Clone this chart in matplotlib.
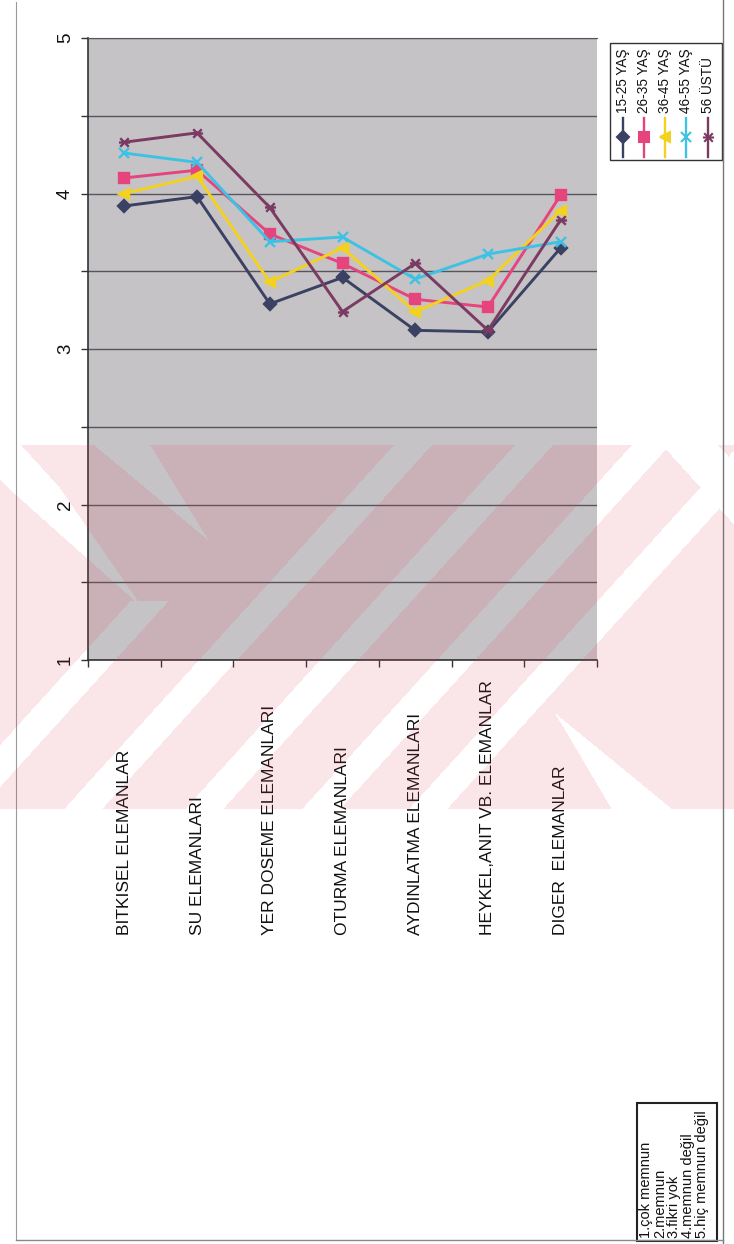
import numpy as np
import matplotlib
matplotlib.use("Agg")
import matplotlib.pyplot as plt
from matplotlib.path import Path
from matplotlib.lines import Line2D
from matplotlib.patches import Rectangle
from matplotlib.ticker import MultipleLocator, FixedLocator

plt.rcParams['font.family'] = ['Liberation Sans', 'DejaVu Sans']

# ---------------- data ----------------
categories = ["BITKISEL ELEMANLAR", "SU ELEMANLARI", "YER DOSEME ELEMANLARI",
              "OTURMA ELEMANLARI", "AYDINLATMA ELEMANLARI",
              "HEYKEL,ANIT VB. ELEMANLAR", "DIGER  ELEMANLAR"]
series_names = ["15-25 YAŞ", "26-35 YAŞ", "36-45 YAŞ", "46-55 YAŞ", "56 ÜSTÜ"]
age_15_25 = [3.92, 3.98, 3.29, 3.46, 3.12, 3.11, 3.65]
age_26_35 = [4.10, 4.15, 3.74, 3.55, 3.32, 3.27, 3.99]
age_36_45 = [4.00, 4.11, 3.43, 3.65, 3.24, 3.44, 3.89]
age_46_55 = [4.26, 4.20, 3.69, 3.72, 3.45, 3.61, 3.69]
age_56_up = [4.33, 4.39, 3.91, 3.24, 3.55, 3.12, 3.83]
value_ticks = [1, 2, 3, 4, 5]
scale_notes = ["1.çok memnun", "2.memnun", "3.fikri yok",
               "4.memnun değil", "5.hiç memnun değil"]

series_values = [age_15_25, age_26_35, age_36_45, age_46_55, age_56_up]
colors = ['#3b4163', '#e6447c', '#f3d11f', '#3ec2e4', '#7b3a62']
star = Path([(-1, -1), (1, 1), (-1, 1), (1, -1), (-1.3, 0), (1.3, 0)],
            [Path.MOVETO, Path.LINETO] * 3)
markers = ['D', 's', '<', 'x', star]
msizes = [6, 6.5, 7, 7.5, 8]

W, H = 734, 1244
def fx(px):
    return px / W
def fy(py):
    return 1 - py / H

fig = plt.figure(figsize=(W / 100, H / 100), dpi=100)
fig.patch.set_facecolor('white')

ax = fig.add_axes([fx(88), fy(660), fx(597) - fx(88), fy(38) - fy(660)])
ax.set_facecolor('#c6c3c6')

x = np.arange(len(categories))
for vals, col, mk, ms in zip(series_values, colors, markers, msizes):
    ax.plot(x, vals, color=col, lw=2.1, marker=mk, ms=ms,
            markerfacecolor=col, markeredgecolor=col, markeredgewidth=1.7,
            zorder=3)

ax.set_xlim(-0.5, len(categories) - 0.5)
ax.set_ylim(value_ticks[0], value_ticks[-1])

# value axis
ax.yaxis.set_major_locator(FixedLocator(value_ticks))
ax.yaxis.set_minor_locator(MultipleLocator(0.5))
ax.set_yticklabels([str(v) for v in value_ticks])
ax.grid(which='both', axis='y', color='#58535c', lw=1.0, zorder=1)
ax.tick_params(axis='y', which='both', direction='out', length=5,
               width=1, color='#333333', pad=5, labelsize=13.5,
               labelcolor='#111111')
for lab in ax.get_yticklabels():
    lab.set_rotation(90)
    lab.set_va('center')

# category axis
ax.set_xticks(x)
ax.set_xticklabels(categories)
ax.xaxis.set_minor_locator(FixedLocator(np.arange(-0.5, len(categories), 1.0)))
ax.tick_params(axis='x', which='major', length=0, pad=198, labelsize=12.5,
               labelcolor='#111111')
ax.tick_params(axis='x', which='minor', length=5, width=1, color='#333333')
for lab in ax.get_xticklabels():
    lab.set_rotation(90)
    lab.set_va('bottom')
    lab.set_ha('center')

for s in ['left', 'bottom']:
    ax.spines[s].set_color('#333333')
    ax.spines[s].set_linewidth(1.2)
ax.spines['top'].set_color('#58535c')
ax.spines['right'].set_visible(False)

# legend (rotated, drawn manually)
fig.add_artist(Rectangle((fx(610), fy(160)), fx(722) - fx(610), fy(43) - fy(160),
                         transform=fig.transFigure, fill=False,
                         edgecolor='#333333', lw=1.0))
leg_x = [623, 644, 665, 686, 708]
for name, col, mk, ms, lx in zip(series_names, colors, markers, msizes, leg_x):
    fig.add_artist(Line2D([fx(lx), fx(lx)], [fy(118), fy(157)],
                          transform=fig.transFigure, color=col, lw=1.7))
    fig.add_artist(Line2D([fx(lx)], [fy(137)], transform=fig.transFigure,
                          color=col, marker=mk, ms=ms, markerfacecolor=col,
                          markeredgecolor=col, markeredgewidth=1.5, lw=0))
    fig.text(fx(lx), fy(113), name, rotation=90, ha='center', va='bottom',
             fontsize=9.8, color='#111111')

# scale note box
fig.add_artist(Rectangle((fx(637), fy(1241)), fx(717) - fx(637), fy(1103) - fy(1241),
                         transform=fig.transFigure, fill=False,
                         edgecolor='#222222', lw=1.5))
fig.text(fx(639), fy(1238), "\n".join(scale_notes), rotation=90, ha='left',
         va='bottom', fontsize=10.5, linespacing=1.0, color='#111111')

# page frame of the scan
fig.add_artist(Line2D([fx(16), fx(16)], [fy(2), fy(1240)], transform=fig.transFigure,
                      color='#9a9a9a', lw=0.8))
fig.add_artist(Line2D([fx(723), fx(723)], [fy(0), fy(1244)], transform=fig.transFigure,
                      color='#777777', lw=1.0))
fig.add_artist(Line2D([fx(16), fx(723)], [fy(1240), fy(1240)], transform=fig.transFigure,
                      color='#888888', lw=1.0))

# faint watermark of the scanned page
yy, xx = np.mgrid[0:H, 0:W].astype(float)
band = (yy >= 445) & (yy <= 808)
u = xx + 0.906 * (yy - 657)
v = xx - 0.906 * (yy - 445)
white = np.zeros_like(band)
for c in [220, 341, 458, 565]:
    white |= np.abs(u - c) < 19
white |= (np.abs(u - 98) < 19) & (yy > 600)
hw1 = 28 * np.clip((540 - yy) / 95, 0, 1)
white |= (np.abs(v - 122) < hw1)
hw2 = 26 * np.clip((607 - yy) / 120, 0, 1)
white |= (np.abs(v - (-5)) < hw2)
white |= (np.abs(v - 690) < 28) & (yy < 560)
hw3 = 30 * np.clip((yy - 713) / 95, 0, 1)
white |= (np.abs(v - 312) < hw3) & (yy > 713)
mask = band & ~white
rgba = np.zeros((H, W, 4))
rgba[mask] = [0.88, 0.24, 0.35, 0.13]
fig.figimage(rgba, xo=0, yo=0, zorder=10, origin='upper')

fig.savefig('out.png', dpi=100)
